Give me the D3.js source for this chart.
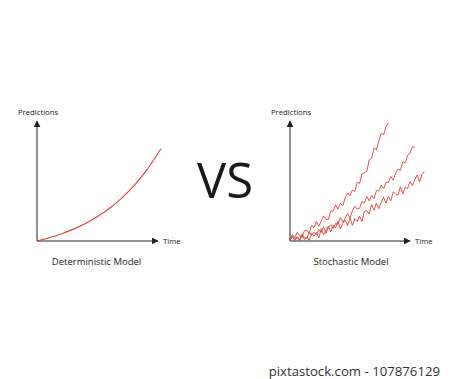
<!DOCTYPE html>
<html>
<head>
<meta charset="utf-8">
<script src="https://cdn.jsdelivr.net/npm/d3@7"></script>
<style>
  body { margin: 0; background: #fff; }
  text { font-family: "Open Sans", sans-serif; fill: #222; }
</style>
</head>
<body>
<div id="chart"></div>
<script>
// deterministic model: smooth growth curve
var detTime = [0, 10, 20, 30, 40, 50, 60, 70, 80, 90, 100, 102.5];
var detValues = [0, 2.7, 5.9, 9.9, 14.6, 20.4, 27.3, 35.8, 45.9, 58.2, 73.1, 77];

// stochastic model: three noisy paths, sampled every 2 time units
var timeStep = 2;
var pathTop = [1, 5.4, 2.8, 7.2, 4.6, 3, 8.5, 9, 6.5, 13, 11.1, 16.2, 12.3, 16.4, 21, 18, 18, 25, 25, 30,
  26.5, 31.4, 29.3, 36.1, 40, 37.7, 42.5, 41.2, 49, 48, 56, 57, 58, 67.5, 69, 77.4, 76, 83.4, 89.8, 88.5,
  95.5, 98.5];
var pathMiddle = [1, 3.8, 1.5, 3.7, 0.9, 5.1, 3.3, 2, 7.7, 4.5, 7.3, 5, 9.6, 7.1, 11.7, 6.5, 11.5, 13.6, 10.6, 14.7,
  14, 19.4, 15.7, 19, 22.7, 19.5, 25.2, 29, 26.6, 27.3, 33, 31.6, 37, 33.5, 37.9, 35.3, 42, 41.7, 46.6, 43.6,
  48.8, 49, 53.8, 50.6, 56.6, 60, 58.7, 66.3, 65, 71.5, 73, 78.5, 78];
var pathBottom = [0.5, 3.6, 0.3, 3, 0.5, 5.7, 1.1, 3.5, 0.5, 6.4, 4.1, 6.9, 2.6, 10.3, 5.2, 9.3, 12.4, 7.5, 13.3, 10.9,
  16.5, 10.1, 14.7, 17.3, 12.8, 19.4, 13, 18.5, 16.1, 20.6, 16.3, 24.8, 25.3, 22.4, 30.4, 25.5, 31.6, 26.9, 32.1, 36.4,
  31.7, 37.1, 33.5, 40.9, 39.2, 38.2, 45.1, 39.1, 45, 43.8, 49.5, 46.3, 51, 55.1, 49.3, 55.4, 58];

var titles = ["Deterministic Model", "Stochastic Model"];
var axisLabels = { y: "Predictions", x: "Time" };

var width = 450, height = 379;
var red = "#dd4238";

var svg = d3.select("#chart")
  .append("svg")
    .attr("width", width)
    .attr("height", height);

svg.append("defs").append("marker")
    .attr("id", "arrow")
    .attr("viewBox", "0 0 10 10")
    .attr("refX", 9)
    .attr("refY", 5)
    .attr("markerWidth", 7)
    .attr("markerHeight", 7)
    .attr("markerUnits", "userSpaceOnUse")
    .attr("orient", "auto")
  .append("path")
    .attr("d", "M0,0 L10,5 L0,10 Z")
    .attr("fill", "#222");

// scales for the two panels
var y = d3.scaleLinear().domain([0, 100]).range([241, 121]);
var xLeft = d3.scaleLinear().domain([0, 100]).range([37, 158]);
var xRight = d3.scaleLinear().domain([0, 100]).range([290, 410]);

function drawPanel(x, title, titleX) {
  var g = svg.append("g");
  g.append("line")
    .attr("x1", x(0)).attr("y1", y(0))
    .attr("x2", x(0)).attr("y2", y(100))
    .attr("stroke", "#222").attr("stroke-width", 1)
    .attr("marker-end", "url(#arrow)");
  g.append("line")
    .attr("x1", x(0)).attr("y1", y(0))
    .attr("x2", x(100)).attr("y2", y(0))
    .attr("stroke", "#222").attr("stroke-width", 1)
    .attr("marker-end", "url(#arrow)");
  g.append("text")
    .attr("x", x(0) - 19).attr("y", y(100) - 6)
    .attr("font-size", 7.7)
    .text(axisLabels.y);
  g.append("text")
    .attr("x", x(100) + 5).attr("y", y(0) + 2.5)
    .attr("font-size", 7.7)
    .text(axisLabels.x);
  g.append("text")
    .attr("x", titleX).attr("y", 264.5)
    .attr("text-anchor", "middle")
    .attr("font-size", 9.5)
    .text(title);
}

drawPanel(xLeft, titles[0], 96.5);
drawPanel(xRight, titles[1], 351);

// deterministic curve
var detLine = d3.line()
  .x(function(d, i) { return xLeft(detTime[i]); })
  .y(function(d) { return y(d); })
  .curve(d3.curveMonotoneX);

svg.append("path")
  .datum(detValues)
  .attr("d", detLine)
  .attr("fill", "none")
  .attr("stroke", red)
  .attr("stroke-width", 1.1);

// stochastic paths
var pathLine = d3.line()
  .x(function(d, i) { return xRight(i * timeStep); })
  .y(function(d) { return y(d); });

svg.selectAll(".path")
  .data([pathTop, pathMiddle, pathBottom])
  .enter()
  .append("path")
    .attr("d", pathLine)
    .attr("fill", "none")
    .attr("stroke", red)
    .attr("stroke-width", 0.9)
    .attr("stroke-linejoin", "round");

// VS
svg.append("text")
  .attr("x", 225).attr("y", 198)
  .attr("text-anchor", "middle")
  .attr("font-size", 49)
  .style("fill", "#1a1a1a")
  .text("VS");

// footer
svg.append("text")
  .attr("x", 440).attr("y", 375.5)
  .attr("text-anchor", "end")
  .attr("font-size", 13.2)
  .style("fill", "#333")
  .text("pixtastock.com - 107876129");
</script>
</body>
</html>
